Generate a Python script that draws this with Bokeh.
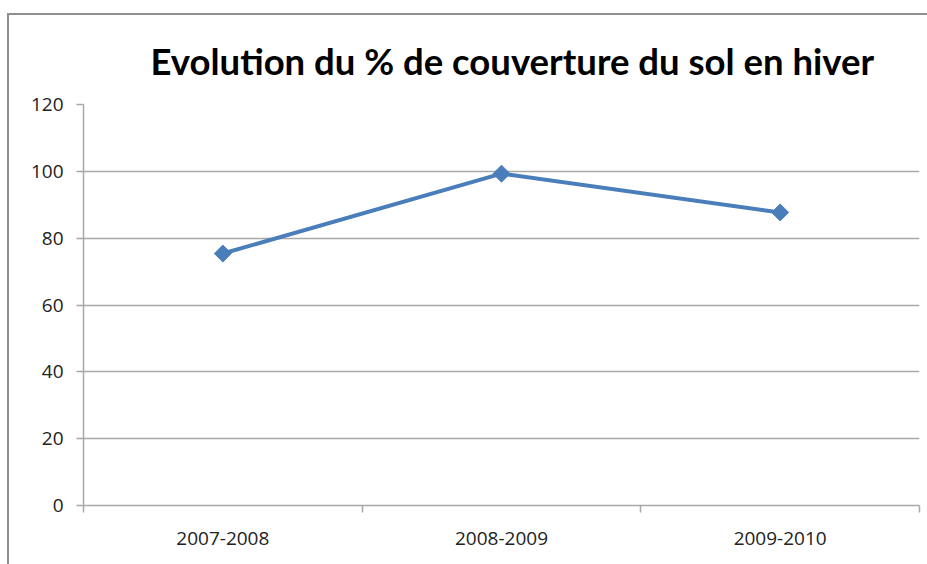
import math
from bokeh.plotting import figure
from bokeh.models import FixedTicker, Range1d
from bokeh.embed import file_html
from bokeh.resources import INLINE

categories = ["2007-2008", "2008-2009", "2009-2010"]
values = [75.4, 99.3, 87.7]
y_ticks = [0, 20, 40, 60, 80, 100, 120]

xs = [i + 0.5 for i in range(len(categories))]

p = figure(width=920, height=551, output_backend="svg", toolbar_location=None,
           x_range=Range1d(0, len(categories)), y_range=Range1d(0, 120),
           min_border_left=74, min_border_right=10, min_border_top=87, min_border_bottom=61)
p.styles = {"border-top": "2px solid #8f8f8f", "border-left": "2px solid #8f8f8f",
            "box-sizing": "border-box", "margin-left": "7px", "margin-top": "13px"}

p.title.text = "Evolution du %  de couverture du sol  en hiver"
p.title.text_font = "Lato"
p.title.text_font_style = "bold"
p.title.text_font_size = "36.5px"
p.title.align = "left"
p.title.offset = 67
p.title.standoff = 43
p.title.text_color = "#000000"

p.outline_line_color = None
p.background_fill_color = "white"
p.border_fill_color = "white"

grid_col = "#a8a8a8"
p.xgrid.grid_line_color = None
p.ygrid.grid_line_color = grid_col
p.ygrid.grid_line_width = 1.5

p.yaxis.ticker = FixedTicker(ticks=y_ticks)
p.yaxis.axis_line_color = grid_col
p.yaxis.axis_line_width = 1.5
p.yaxis.major_tick_line_color = grid_col
p.yaxis.major_tick_line_width = 1.5
p.yaxis.major_tick_out = 7
p.yaxis.major_tick_in = 0
p.yaxis.minor_tick_line_color = None
p.yaxis.major_label_standoff = 13
p.yaxis.major_label_text_font = "Open Sans"
p.yaxis.major_label_text_font_size = "19px"
p.yaxis.major_label_text_color = "#222222"

p.xaxis.ticker = FixedTicker(ticks=xs, minor_ticks=[0, 1, 2, 3])
p.xaxis.major_label_overrides = {x: c for x, c in zip(xs, categories)}
p.xaxis.axis_line_color = grid_col
p.xaxis.axis_line_width = 1.5
p.xaxis.major_tick_line_color = None
p.xaxis.minor_tick_line_color = grid_col
p.xaxis.minor_tick_line_width = 1.5
p.xaxis.minor_tick_out = 7
p.xaxis.minor_tick_in = 0
p.xaxis.major_tick_out = 7
p.xaxis.major_tick_in = 0
p.xaxis.major_label_standoff = 19
p.xaxis.major_label_text_font = "Open Sans"
p.xaxis.major_label_text_font_size = "19px"
p.xaxis.major_label_text_color = "#222222"

blue = "#4a7ebb"
p.line(xs, values, line_color=blue, line_width=4)
p.scatter(xs, values, marker="square", size=12, angle=math.pi / 4,
          fill_color=blue, line_color=blue)

open("out.html", "w").write(file_html(p, INLINE))
